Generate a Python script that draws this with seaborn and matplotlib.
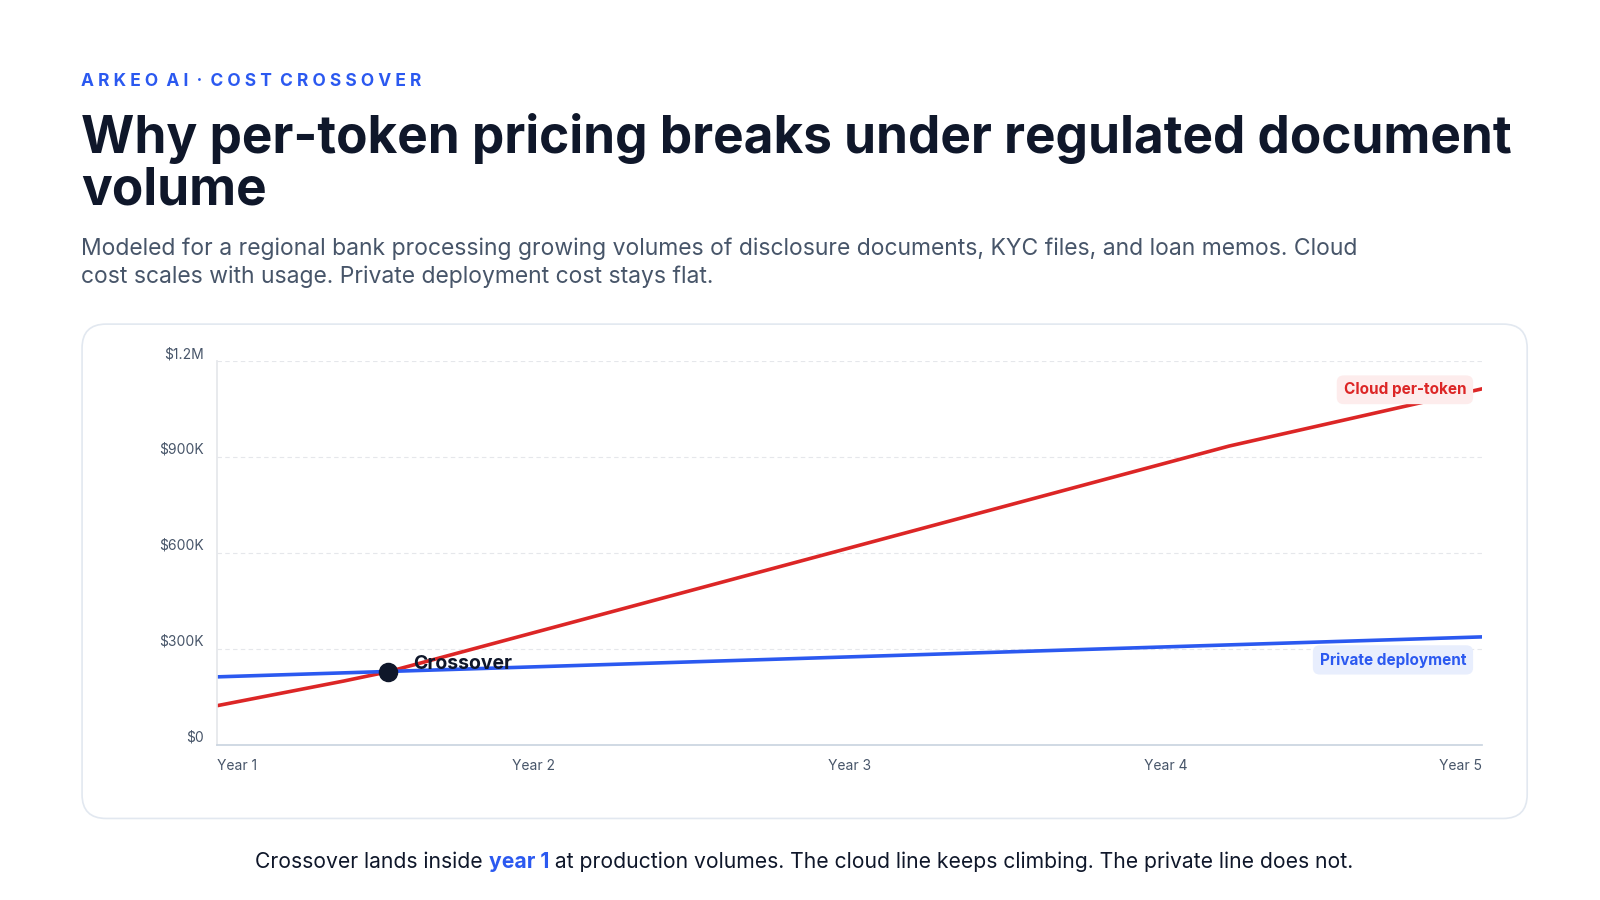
import matplotlib
matplotlib.use("Agg")
import matplotlib.pyplot as plt
import seaborn as sns
import pandas as pd
from matplotlib.patches import FancyBboxPatch

years = [1.0, 1.4, 1.54, 4.2, 5.0]
cloud = [122000, 199000, 228000, 934000, 1113000]
private_years = [1.0, 5.0]
private = [212000, 337000]
crossover = (1.54, 228000)
yticks = [0, 300000, 600000, 900000, 1200000]
ytick_labels = ["$0", "$300K", "$600K", "$900K", "$1.2M"]
xticks = [1, 2, 3, 4, 5]
xtick_labels = ["Year 1", "Year 2", "Year 3", "Year 4", "Year 5"]

RED = "#dc2626"; BLUE = "#2b59f0"; DARK = "#0f172a"; GRAY = "#475569"

sns.set_theme(style="white")
plt.rcParams["font.family"] = ["Inter", "DejaVu Sans"]

fig = plt.figure(figsize=(16, 9), dpi=100)
S = 1600 / 1560
W, H = 1560, 877.5
def fx(x): return x / W
def fy(y): return 1 - y / H

card = FancyBboxPatch((fx(80), fy(798)), fx(1489) - fx(80), fy(316) - fy(798),
                      boxstyle="round,pad=0,rounding_size=0.015", transform=fig.transFigure,
                      facecolor="white", edgecolor="#e2e8f0", linewidth=1.2, mutation_aspect=16/9,
                      zorder=-5)
fig.patches.append(card)

ax = fig.add_axes([fx(212), fy(726), fx(1445) - fx(212), fy(352) - fy(726)])
ax.set_zorder(2)
df_c = pd.DataFrame({"year": years, "cost": cloud})
df_p = pd.DataFrame({"year": private_years, "cost": private})
sns.lineplot(data=df_c, x="year", y="cost", ax=ax, color=RED, linewidth=2.6)
sns.lineplot(data=df_p, x="year", y="cost", ax=ax, color=BLUE, linewidth=2.6)
ax.scatter([crossover[0]], [crossover[1]], s=170, color=DARK, zorder=5)
ax.text(crossover[0] + 0.08, crossover[1] + 25000, "Crossover", fontsize=14, fontweight="bold",
        color=DARK, va="center", ha="left", zorder=6)
ax.set_xlim(1, 5); ax.set_ylim(0, 1200000)
ax.set_xticks(xticks); ax.set_xticklabels(xtick_labels)
ax.set_yticks(yticks); ax.set_yticklabels(ytick_labels)
labs = ax.get_xticklabels()
labs[0].set_ha("left"); labs[-1].set_ha("right")
ax.tick_params(axis="both", labelsize=10, colors=GRAY, length=0, pad=10)
ax.grid(axis="y", color="#e5e7eb", linestyle=(0, (4, 3)), linewidth=0.8)
ax.set_xlabel(""); ax.set_ylabel("")
for s in ["top", "right"]: ax.spines[s].set_visible(False)
ax.spines["left"].set_color("#e5e7eb"); ax.spines["bottom"].set_color("#cbd5e1")
ax.set_facecolor("none")
for yt in ax.get_yticklabels(): yt.set_va("bottom")

ax.text(4.95, 1110000, "Cloud per-token", color=RED, fontsize=11, fontweight="bold", ha="right", va="center",
        bbox=dict(boxstyle="round,pad=0.45", fc="#fdecec", ec="none"), zorder=6)
ax.text(4.95, 265000, "Private deployment", color=BLUE, fontsize=11, fontweight="bold", ha="right", va="center",
        bbox=dict(boxstyle="round,pad=0.45", fc="#e8eefd", ec="none"), zorder=6)

fig.text(fx(79), fy(79), "A R K E O   A I   ·   C O S T   C R O S S O V E R".replace("   ", "  "),
         color=BLUE, fontsize=12.5, fontweight="bold", va="center")
fig.text(fx(79), fy(160), "Why per-token pricing breaks under regulated document\nvolume",
         color=DARK, fontsize=37, fontweight="bold", va="center", linespacing=1.05)
fig.text(fx(79), fy(256), "Modeled for a regional bank processing growing volumes of disclosure documents, KYC files, and loan memos. Cloud\ncost scales with usage. Private deployment cost stays flat.",
         color=GRAY, fontsize=16.5, va="center", linespacing=1.3)

parts = [("Crossover lands inside ", DARK, "normal"), ("year 1", BLUE, "bold"),
         (" at production volumes. The cloud line keeps climbing. The private line does not.", DARK, "normal")]
r = fig.canvas.get_renderer()
objs = [fig.text(0, fy(840), t, color=c, fontweight=w, fontsize=15.2, va="center") for t, c, w in parts]
widths = [o.get_window_extent(r).width for o in objs]
x = 784 * S - sum(widths) / 2
for o, w in zip(objs, widths):
    o.set_x(x / 1600); x += w

fig.savefig("out.png", dpi=100, facecolor="white")
